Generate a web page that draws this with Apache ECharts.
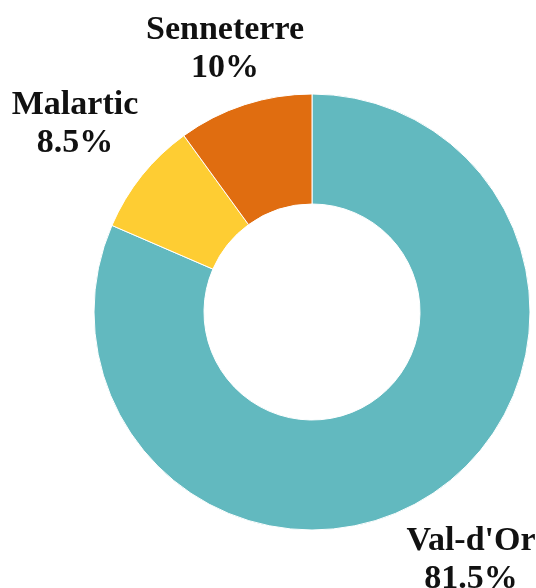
<!DOCTYPE html>
<html>
<head>
<meta charset="utf-8">
<script src="https://cdn.jsdelivr.net/npm/echarts@6/dist/echarts.min.js"></script>
<style>
  html, body { margin: 0; padding: 0; background: #fff; }
  #chart { width: 536px; height: 588px; }
</style>
</head>
<body>
<div id="chart"></div>
<script>
// données
var villes = ['Val-d\'Or', 'Malartic', 'Senneterre']
var parts = [81.5, 8.5, 10]
var couleurs = ['#62b9bf', '#fecd33', '#e06d10']

// position des étiquettes (centre du texte)
var labelPos = [
  [471, 560],
  [75, 124],
  [225, 49]
]

var chart = echarts.init(document.getElementById('chart'))

var option = {
  animation: false,
  series: [
    {
      type: 'pie',
      center: [312, 312],
      radius: [108, 218],
      startAngle: 90,
      clockwise: true,
      silent: true,
      data: villes.map(function (v, i) {
        return { name: v, value: parts[i], itemStyle: { color: couleurs[i] } }
      }),
      itemStyle: {
        borderColor: '#fff',
        borderWidth: 1
      },
      label: {
        show: true,
        position: 'outside',
        formatter: function (p) {
          return p.name + '\n' + p.value + '%'
        },
        color: '#111',
        fontFamily: 'Liberation Serif',
        fontWeight: 'bold',
        fontSize: 34,
        lineHeight: 38,
        align: 'center',
        overflow: 'none'
      },
      labelLine: { show: false },
      labelLayout: function (params) {
        var p = labelPos[params.dataIndex]
        return {
          x: p[0],
          y: p[1],
          align: 'center',
          verticalAlign: 'middle',
          hideOverlap: false
        }
      }
    }
  ]
}

chart.setOption(option)
</script>
</body>
</html>
